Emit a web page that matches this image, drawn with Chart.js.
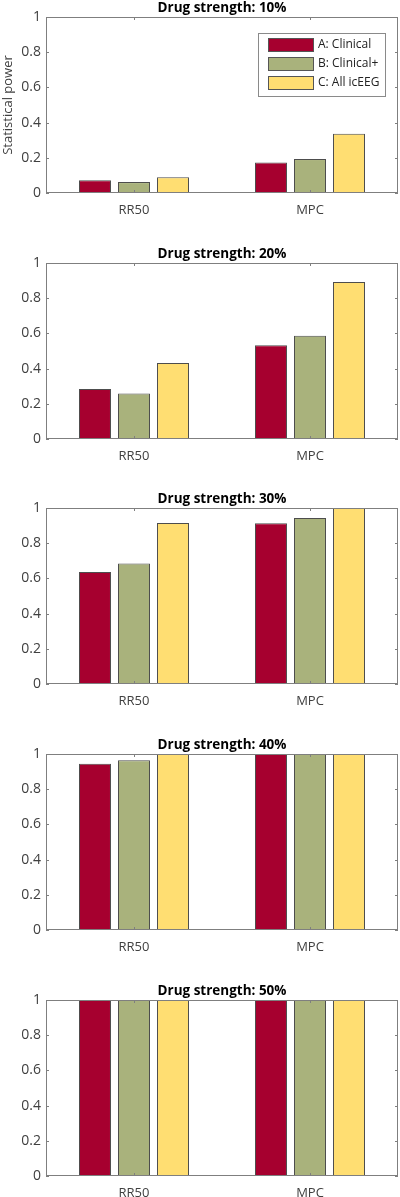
<!DOCTYPE html>
<html>
<head>
<meta charset="utf-8">
<script src="https://cdn.jsdelivr.net/npm/chart.js@4.4.1/dist/chart.umd.min.js"></script>
<style>
  html, body { margin: 0; padding: 0; background: #fff; }
  #wrap { position: relative; width: 400px; height: 1197px; overflow: hidden; }
  .panel { position: absolute; left: 0; width: 400px; height: 214px; }
</style>
</head>
<body>
<div id="wrap"></div>
<script>
// ---- data ----
const categories = ['RR50', 'MPC'];
const seriesNames = ['A: Clinical', 'B: Clinical+', 'C: All icEEG'];
const panelTitles = ['Drug strength: 10%', 'Drug strength: 20%', 'Drug strength: 30%', 'Drug strength: 40%', 'Drug strength: 50%'];
const yTickValues = [0, 0.2, 0.4, 0.6, 0.8, 1];
// values per panel: [RR50, MPC] for each series
const clinical     = [[0.072, 0.174], [0.284, 0.532], [0.637, 0.914], [0.945, 1.0], [1.0, 1.0]];
const clinicalPlus = [[0.062, 0.193], [0.259, 0.587], [0.685, 0.943], [0.964, 1.0], [1.0, 1.0]];
const allIcEEG     = [[0.089, 0.337], [0.432, 0.892], [0.915, 1.0], [1.0, 1.0], [1.0, 1.0]];

const colors = ['#A6002F', '#A9B27C', '#FFDE72'];
const panelTops = [0, 246, 491, 737, 983];
const FONT = "'Open Sans', sans-serif";

const frame = {
  id: 'frame',
  afterDatasetsDraw(chart) {
    const { ctx, chartArea: a, scales } = chart;
    ctx.save();
    ctx.strokeStyle = '#7f7f7f';
    ctx.lineWidth = 1;
    ctx.strokeRect(a.left + 0.5, a.top + 0.5, a.right - a.left - 1, a.bottom - a.top - 1);
    const t = 3;
    ctx.beginPath();
    yTickValues.forEach(v => {
      const y = Math.round(scales.y.getPixelForValue(v)) + 0.5;
      ctx.moveTo(a.left, y); ctx.lineTo(a.left + t, y);
      ctx.moveTo(a.right, y); ctx.lineTo(a.right - t, y);
    });
    categories.forEach((c, i) => {
      const x = Math.round(scales.x.getPixelForValue(i)) + 0.5;
      ctx.moveTo(x, a.top); ctx.lineTo(x, a.top + t);
      ctx.moveTo(x, a.bottom); ctx.lineTo(x, a.bottom - t);
    });
    ctx.stroke();
    // title
    const title = chart.options.plugins.frame.title;
    ctx.fillStyle = '#000';
    ctx.font = "bold 13.5px " + FONT;
    ctx.textAlign = 'center';
    ctx.textBaseline = 'middle';
    ctx.fillText(title, (a.left + a.right) / 2, a.top - 9);
    // legend
    if (chart.options.plugins.frame.legend) {
      const lx = 258, ly = 33, lw = 127, lh = 63;
      ctx.fillStyle = '#fff';
      ctx.fillRect(lx, ly, lw, lh);
      ctx.strokeStyle = '#8a8a8a';
      ctx.strokeRect(lx + 0.5, ly + 0.5, lw, lh);
      chart.data.datasets.forEach((ds, i) => {
        const cy = 45 + i * 19;
        ctx.fillStyle = ds.backgroundColor;
        ctx.fillRect(268, cy - 6.5, 45, 13);
        ctx.strokeStyle = '#555';
        ctx.strokeRect(268.5, cy - 6.5, 45, 13);
        ctx.fillStyle = '#222';
        ctx.font = "12px " + FONT;
        ctx.textAlign = 'left';
        ctx.fillText(ds.label, 318, cy);
      });
    }
    ctx.restore();
  }
};

const wrap = document.getElementById('wrap');
panelTitles.forEach((title, p) => {
  const div = document.createElement('div');
  div.className = 'panel';
  div.style.top = panelTops[p] + 'px';
  const cv = document.createElement('canvas');
  cv.width = 400; cv.height = 214;
  cv.style.width = '400px'; cv.style.height = '214px';
  div.appendChild(cv);
  wrap.appendChild(div);
  const vals = [clinical[p], clinicalPlus[p], allIcEEG[p]];
  new Chart(cv, {
    type: 'bar',
    data: {
      labels: categories,
      datasets: seriesNames.map((n, i) => ({
        label: n,
        data: vals[i],
        backgroundColor: colors[i],
        borderColor: '#4d4d4d',
        borderWidth: 1,
        borderSkipped: false,
        categoryPercentage: 0.665,
        barPercentage: 0.82
      }))
    },
    options: {
      responsive: false,
      maintainAspectRatio: false,
      animation: false,
      devicePixelRatio: 1,
      layout: { padding: { top: 17, right: 2, left: 0, bottom: 0 } },
      plugins: {
        legend: { display: false },
        tooltip: { enabled: false },
        title: { display: false },
        frame: { title: title, legend: p === 0 }
      },
      scales: {
        x: {
          grid: { display: false, drawTicks: false },
          border: { display: false },
          ticks: { color: '#404040', font: { family: FONT, size: 13 }, padding: 9 },
          afterFit(s) { s.height = 21; }
        },
        y: {
          min: 0, max: 1,
          grid: { display: false, drawTicks: false },
          border: { display: false },
          afterBuildTicks(s) { s.ticks = yTickValues.map(v => ({ value: v })); },
          ticks: {
            color: '#404040', font: { family: FONT, size: 14 }, padding: 5,
            callback: v => String(v)
          },
          title: {
            display: p === 0, text: 'Statistical power', color: '#404040',
            font: { family: FONT, size: 13 }, padding: 0
          },
          afterFit(s) { s.width = 46; }
        }
      }
    },
    plugins: [frame]
  });
});
</script>
</body>
</html>
